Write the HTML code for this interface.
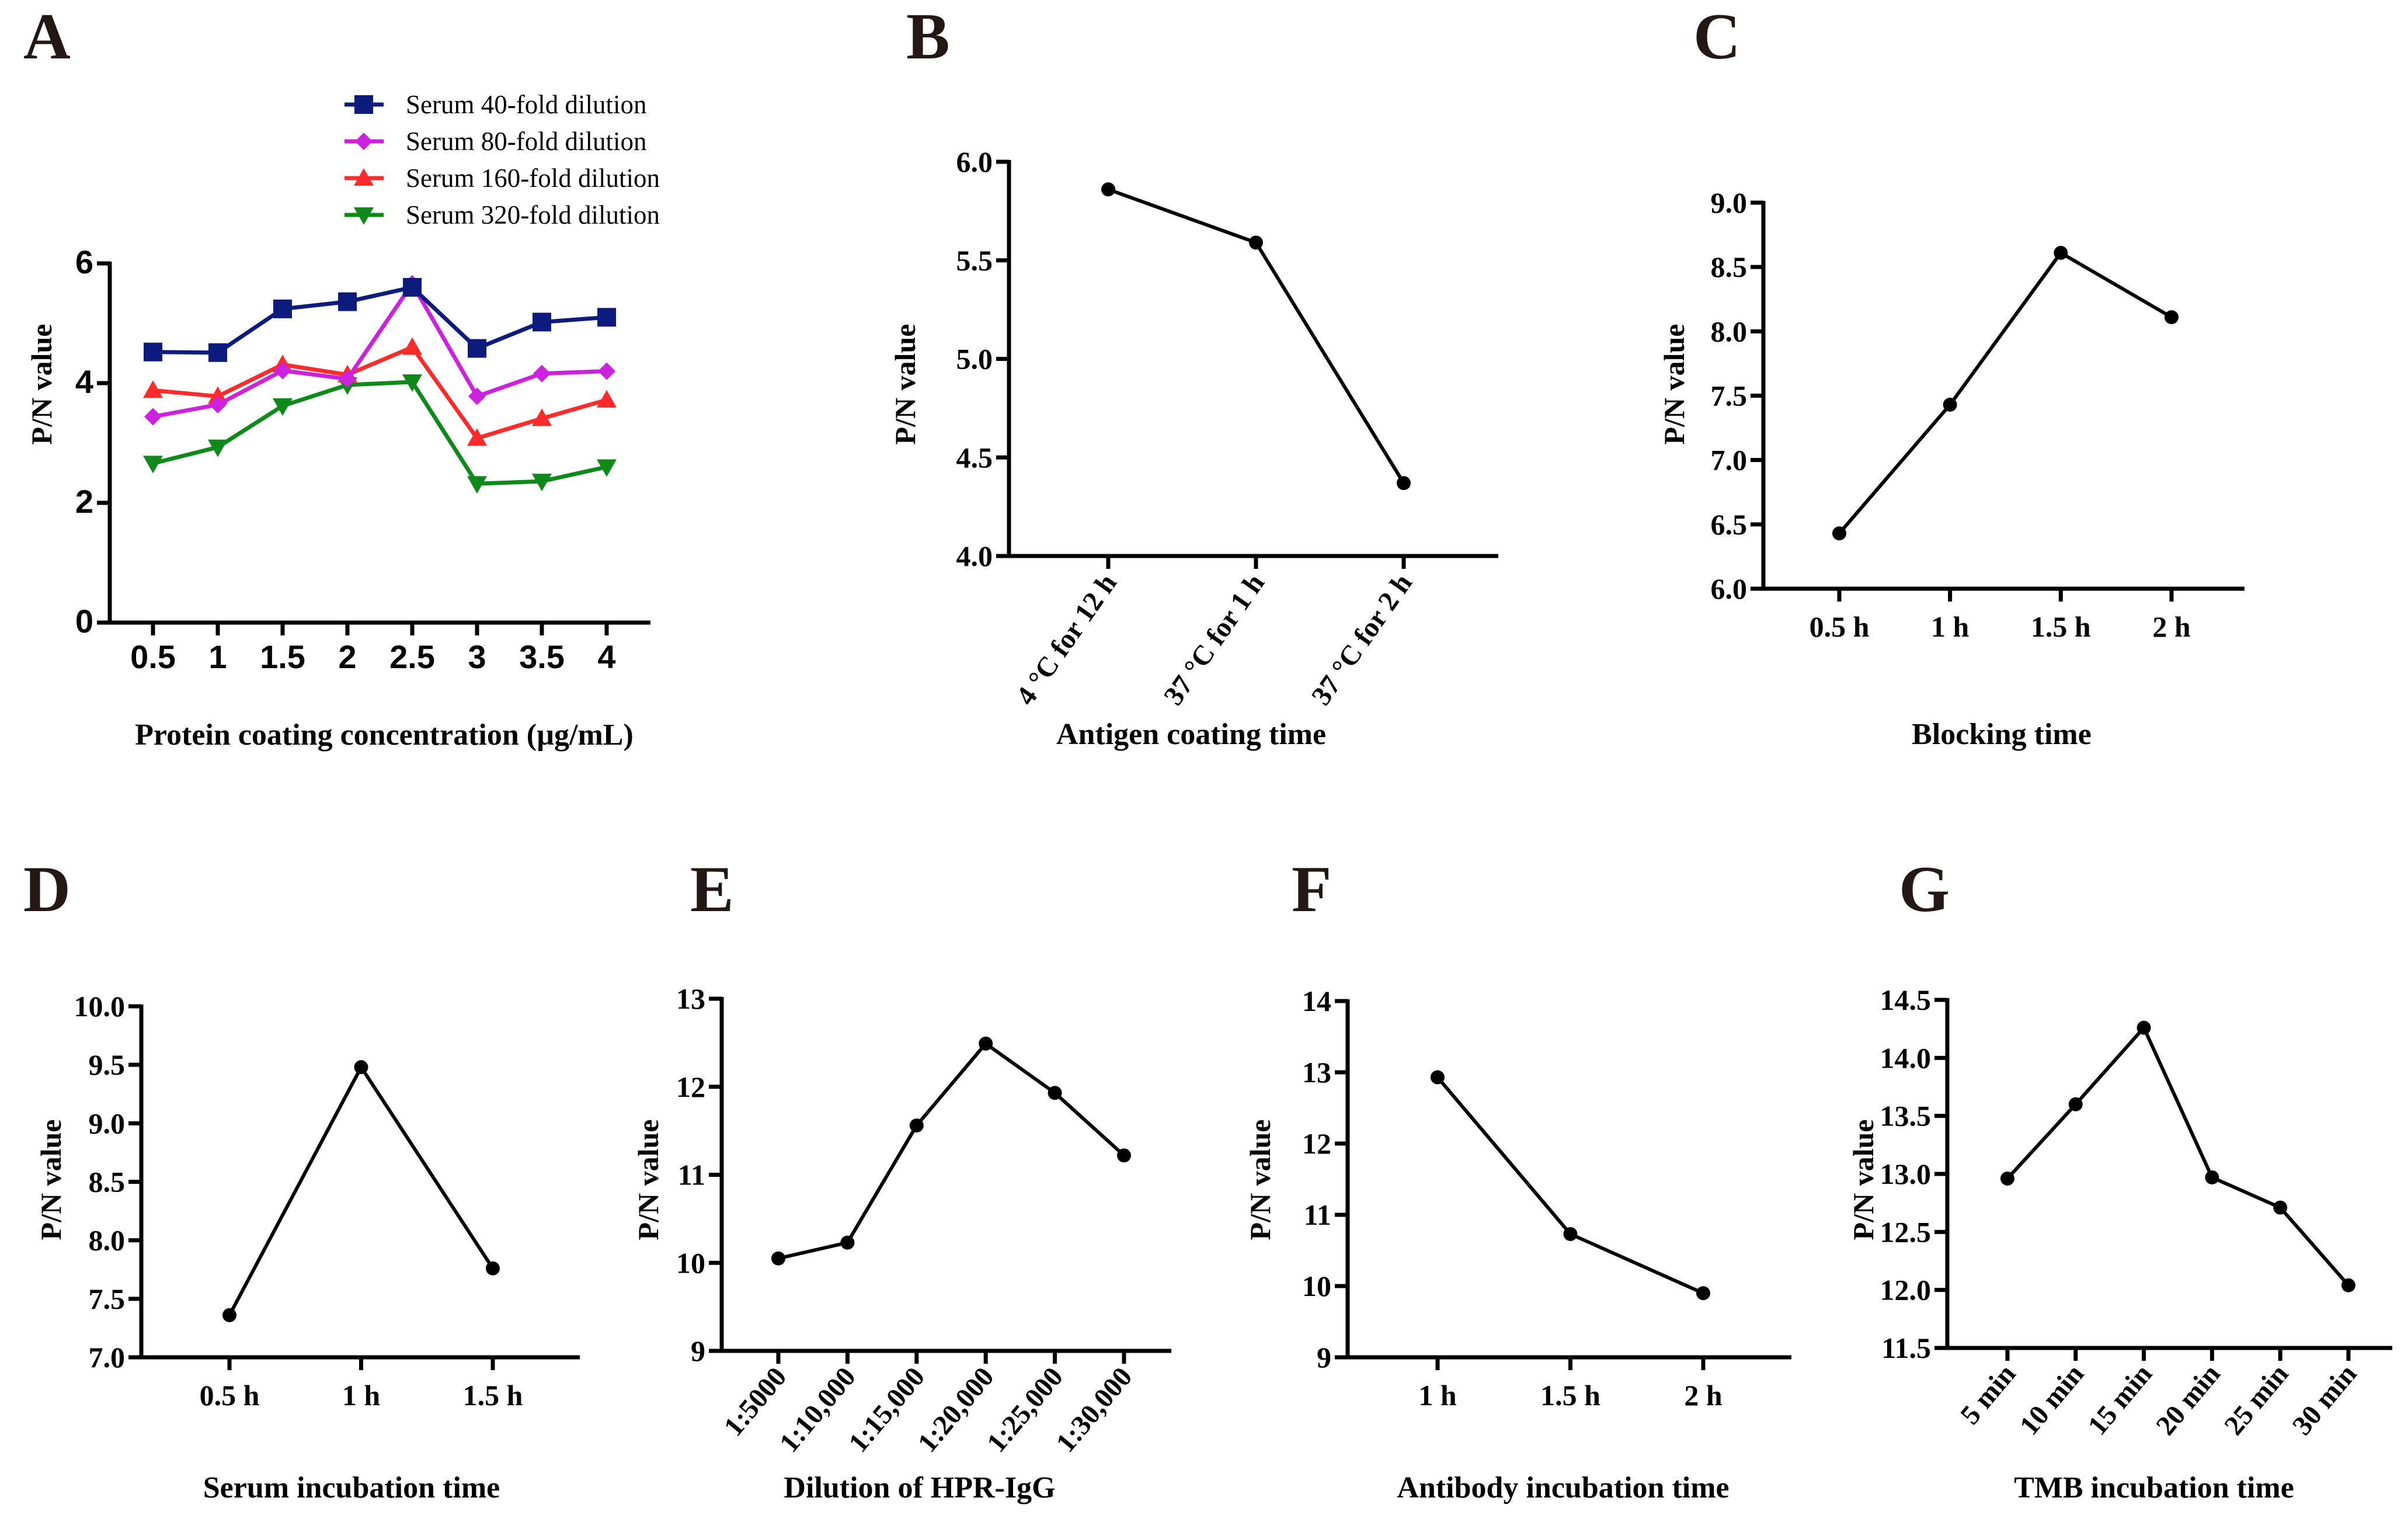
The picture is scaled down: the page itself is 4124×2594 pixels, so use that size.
<!DOCTYPE html>
<html><head><meta charset="utf-8"><style>
html,body{margin:0;padding:0;background:#fff}
svg{display:block}
</style></head><body>
<svg id="fig" width="4124" height="2594" viewBox="0 0 4124 2594" xmlns="http://www.w3.org/2000/svg"></svg>
<script>
// Panel A data
const aCats = ["0.5","1","1.5","2","2.5","3","3.5","4"];
const aS40 = [4.52,4.51,5.24,5.36,5.6,4.58,5.02,5.1];
const aS80 = [3.44,3.64,4.21,4.07,5.66,3.78,4.16,4.2];
const aS160 = [3.88,3.78,4.31,4.14,4.6,3.08,3.41,3.72];
const aS320 = [2.66,2.93,3.62,3.97,4.02,2.32,2.36,2.6];
const aTicks = [0,2,4,6];
// Panel B
const bCats = ["4 °C for 12 h","37 °C for 1 h","37 °C for 2 h"];
const bVals = [5.86,5.59,4.37];
const bTicks = ["4.0","4.5","5.0","5.5","6.0"];
// Panel C
const cCats = ["0.5 h","1 h","1.5 h","2 h"];
const cVals = [6.43,7.43,8.61,8.11];
const cTicks = ["6.0","6.5","7.0","7.5","8.0","8.5","9.0"];
// Panel D
const dCats = ["0.5 h","1 h","1.5 h"];
const dVals = [7.36,9.48,7.76];
const dTicks = ["7.0","7.5","8.0","8.5","9.0","9.5","10.0"];
// Panel E
const eCats = ["1:5000","1:10,000","1:15,000","1:20,000","1:25,000","1:30,000"];
const eVals = [10.05,10.23,11.56,12.49,11.93,11.22];
const eTicks = ["9","10","11","12","13"];
// Panel F
const fCats = ["1 h","1.5 h","2 h"];
const fVals = [12.93,10.73,9.9];
const fTicks = ["9","10","11","12","13","14"];
// Panel G
const gCats = ["5 min","10 min","15 min","20 min","25 min","30 min"];
const gVals = [12.96,13.6,14.26,12.97,12.71,12.04];
const gTicks = ["11.5","12.0","12.5","13.0","13.5","14.0","14.5"];

const NS="http://www.w3.org/2000/svg";
const svg=document.getElementById('fig');
function el(tag,attrs,parent){const e=document.createElementNS(NS,tag);for(const k in attrs)e.setAttribute(k,attrs[k]);(parent||svg).appendChild(e);return e;}
function txt(s,attrs,parent){const e=el('text',attrs,parent);e.textContent=s;return e;}
const SERIF='"Liberation Serif", serif', SANS='"Liberation Sans", sans-serif';

function panel(o){
  const g=el('g',{});
  
  
  const L=txt(o.id.toUpperCase(),{x:o.lx,y:o.ly,'font-family':SERIF,'font-weight':'bold','font-size':112,fill:'#231815'},g);
  
  
  const ymin=+o.ticks[0], ymax=+o.ticks[o.ticks.length-1];
  const ys=v=>o.y0-(v-ymin)/(ymax-ymin)*(o.y0-o.y1);
  const n=o.cats.length;
  const xs=i=>o.xf+(o.xl-o.xf)*i/(n-1);
  const ax=el('path',{d:`M${o.ax} ${o.y1-3}V${o.y0}H${o.xend}`,stroke:'#000','stroke-width':7,fill:'none'},g);
  
  
  const tfs=o.sansTicks?56:50;
  o.ticks.forEach(t=>{
    const y=ys(+t);
    el('line',{x1:o.ax-22,x2:o.ax,y1:y,y2:y,stroke:'#000','stroke-width':7},g);
    const tl=txt(t,{x:o.ax-28,y:y+17,'text-anchor':'end','font-family':o.sansTicks?SANS:SERIF,'font-weight':'bold','font-size':tfs,fill:'#000'},g);
    
    
  });
  o.cats.forEach((c,i)=>{
    const x=xs(i);
    el('line',{x1:x,x2:x,y1:o.y0,y2:o.y0+22,stroke:'#000','stroke-width':7},g);
    let t;
    if(o.rot){
      t=txt(c,{x:0,y:0,'text-anchor':'end','font-family':SERIF,'font-weight':'bold','font-size':48,fill:'#000',transform:`translate(${x+16},${o.y0+45}) rotate(${o.rot})`},g);
    } else {
      t=txt(c,{x:x,y:o.y0+(o.sansTicks?78:82),'text-anchor':'middle','font-family':o.sansTicks?SANS:SERIF,'font-weight':'bold','font-size':tfs,fill:'#000'},g);
    }
    
    
  });
  const yt=txt('P/N value',{x:0,y:0,'text-anchor':'middle','font-family':SERIF,'font-weight':'bold','font-size':50,fill:'#000',transform:`translate(${o.ytx},${o.yty}) rotate(-90)`},g);
  
  
  const xt=txt(o.xtitle,{x:o.xtx,y:o.xty,'text-anchor':'middle','font-family':SERIF,'font-weight':'bold','font-size':52,fill:'#000'},g);
  
  
  return {g,xs,ys};
}

function simpleSeries(p,vals,id){
  const pts=vals.map((v,i)=>p.xs(i)+','+p.ys(v)).join(' ');
  const l=el('polyline',{points:pts,fill:'none',stroke:'#000','stroke-width':6,'stroke-linejoin':'round'},p.g);
  
  
  vals.forEach((v,i)=>{
    const c=el('circle',{cx:p.xs(i),cy:p.ys(v),r:12,fill:'#000'},p.g);
    
    
  });
}

function marker(type,x,y,color,parent){
  let m;
  const s=16;
  if(type==='sq') m=el('rect',{x:x-s,y:y-s,width:2*s,height:2*s,fill:color},parent);
  else if(type==='di') m=el('polygon',{points:`${x},${y-15} ${x+15},${y} ${x},${y+15} ${x-15},${y}`,fill:color},parent);
  else if(type==='up') m=el('polygon',{points:`${x},${y-17} ${x+17},${y+13} ${x-17},${y+13}`,fill:color},parent);
  else m=el('polygon',{points:`${x},${y+17} ${x+17},${y-13} ${x-17},${y-13}`,fill:color},parent);
  return m;
}

// Panel A
const pA=panel({id:'a',lx:40,ly:100,cats:aCats,ticks:aTicks.map(String),ax:188,y0:1066,y1:451,xend:1114,xf:262,xl:1039,sansTicks:true,ytx:88,yty:658,xtitle:'Protein coating concentration (µg/mL)',xtx:658,xty:1275});
const aSeries=[[aS40,'#0d1b7e','sq','Serum 40-fold dilution'],[aS80,'#cc22e0','di','Serum 80-fold dilution'],[aS160,'#ff2a2a','up','Serum 160-fold dilution'],[aS320,'#0d8a1a','dn','Serum 320-fold dilution']];
[...aSeries].reverse().forEach(([vals,col,mk,name])=>{
  const pts=vals.map((v,i)=>pA.xs(i)+','+pA.ys(v)).join(' ');
  const l=el('polyline',{points:pts,fill:'none',stroke:col,'stroke-width':7,'stroke-linejoin':'round'},pA.g);
  
  
  vals.forEach((v,i)=>{
    const m=marker(mk,pA.xs(i),pA.ys(v),col,pA.g);
    
    
  });
});
const leg=el('g',{},pA.g);


aSeries.forEach(([vals,col,mk,name],i)=>{
  const y=179+i*63;
  const e=el('g',{},leg);
  
  
  el('line',{x1:590,x2:657,y1:y,y2:y,stroke:col,'stroke-width':7},e);
  marker(mk,623,y,col,e);
  txt(name,{x:695,y:y+15,'font-family':SERIF,'font-size':45,fill:'#000'},e);
});

// Panel B
const pB=panel({id:'b',lx:1552,ly:100,cats:bCats,ticks:bTicks,ax:1728,y0:952,y1:277,xend:2566,xf:1898,xl:2404,rot:-55,ytx:1567,yty:658,xtitle:'Antigen coating time',xtx:2040,xty:1274});
simpleSeries(pB,bVals,'b');
// Panel C
const pC=panel({id:'c',lx:2900,ly:100,cats:cCats,ticks:cTicks,ax:3020,y0:1008,y1:347,xend:3844,xf:3150,xl:3719,ytx:2884,yty:658,xtitle:'Blocking time',xtx:3428,xty:1274});
simpleSeries(pC,cVals,'c');
// Panel D
const pD=panel({id:'d',lx:40,ly:1560,cats:dCats,ticks:dTicks,ax:242,y0:2324,y1:1723,xend:993,xf:393,xl:844,ytx:104,yty:2020,xtitle:'Serum incubation time',xtx:602,xty:2564});
simpleSeries(pD,dVals,'d');
// Panel E
const pE=panel({id:'e',lx:1182,ly:1560,cats:eCats,ticks:eTicks,ax:1236,y0:2313,y1:1710,xend:2006,xf:1333,xl:1925,rot:-50,ytx:1127,yty:2020,xtitle:'Dilution of HPR-IgG',xtx:1575,xty:2564});
simpleSeries(pE,eVals,'e');
// Panel F
const pF=panel({id:'f',lx:2212,ly:1560,cats:fCats,ticks:fTicks,ax:2308,y0:2324,y1:1714,xend:3068,xf:2462,xl:2917,ytx:2175,yty:2020,xtitle:'Antibody incubation time',xtx:2677,xty:2564});
simpleSeries(pF,fVals,'f');
// Panel G
const pG=panel({id:'g',lx:3252,ly:1560,cats:gCats,ticks:gTicks,ax:3335,y0:2308,y1:1712,xend:4097,xf:3438,xl:4022,rot:-50,ytx:3208,yty:2020,xtitle:'TMB incubation time',xtx:3689,xty:2564});
simpleSeries(pG,gVals,'g');
</script>
</body></html>
